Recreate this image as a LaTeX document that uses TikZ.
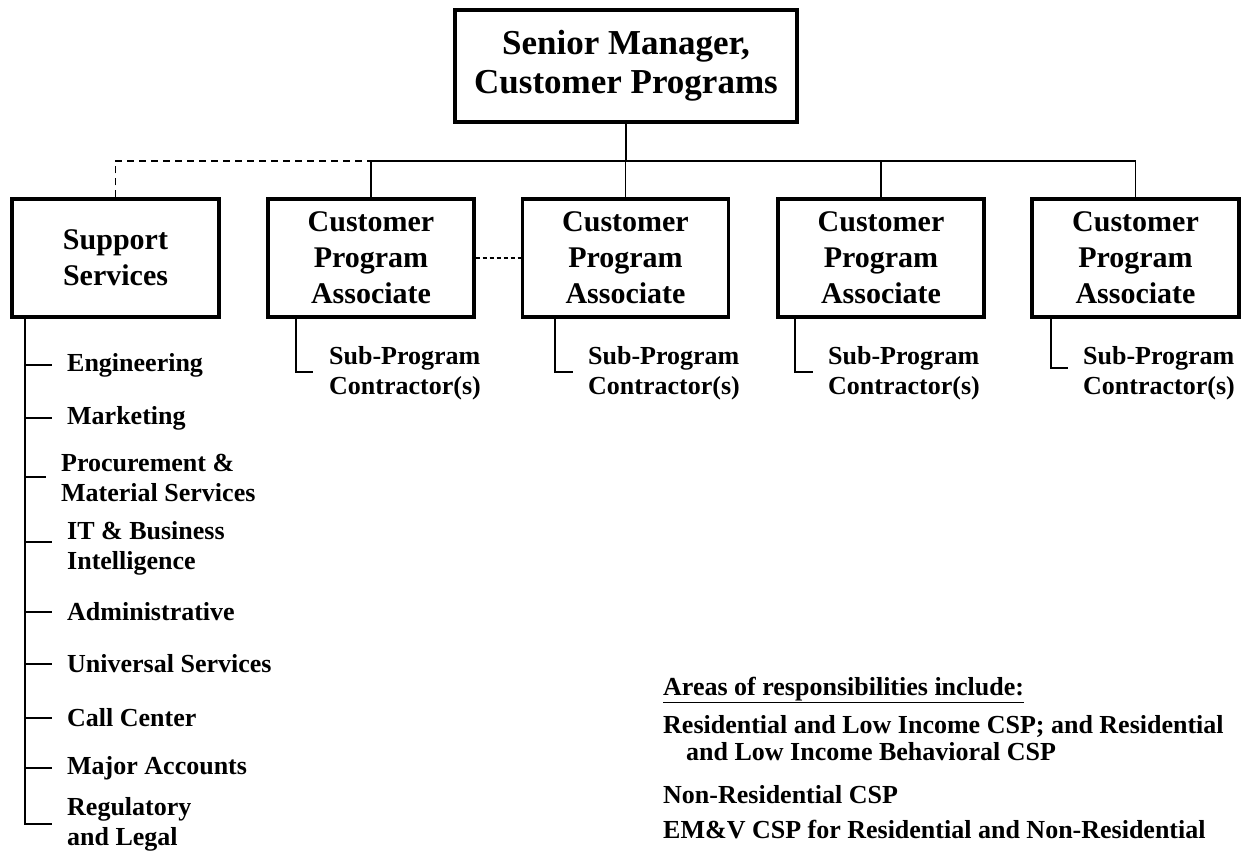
\documentclass[tikz,border=0pt]{standalone}
\usepackage{fontspec}
\setmainfont{Liberation Serif}
\begin{document}
\begin{tikzpicture}[x=1pt,y=-1pt,
  box/.style={draw, line width=3.2pt, align=center, inner sep=0pt, font=\bfseries\fontsize{30}{36}\selectfont},
  cpabox/.style={box, minimum width=206pt, minimum height=118pt},
  conn/.style={line width=1.8pt},
  dashA/.style={conn, dash pattern=on 7pt off 5pt},
  dashB/.style={conn, line width=1.2pt, dash pattern=on 4pt off 3pt},
  small/.style={inner sep=0pt, anchor=west, align=left, font=\bfseries\fontsize{26}{30}\selectfont}
]
\useasboundingbox (0,0) rectangle (1248,852);

% top box
\node[box, minimum width=342pt, minimum height=112pt, font=\bfseries\fontsize{35}{39}\selectfont] (top) at (626,66) {Senior Manager,\\Customer Programs};

% second level
\node[cpabox, minimum width=207pt] (supp) at (115.5,258) {Support\\Services};
\node[cpabox] (cpa1) at (371,258) {Customer\\Program\\Associate};
\node[cpabox] (cpa2) at (625.5,258) {Customer\\Program\\Associate};
\node[cpabox] (cpa3) at (881,258) {Customer\\Program\\Associate};
\node[cpabox, minimum width=207pt] (cpa4) at (1135.5,258) {Customer\\Program\\Associate};

% bus
\coordinate (bus) at (626,161);
\draw[conn] (top.south) -- (bus);
\draw[conn] (cpa1.north) |- (bus) -| (cpa4.north);
\draw[conn] (cpa2.north) -- (cpa2.north |- bus);
\draw[conn] (cpa3.north) -- (cpa3.north |- bus);
\draw[dashA] (supp.north) |- (bus);
\draw[dashB] (cpa1.east) -- (cpa2.west);

% sub-program contractors
\node[small] (sub1) at (329,373) {Sub-Program\\Contractor(s)};
\node[small] (sub2) at (588,373) {Sub-Program\\Contractor(s)};
\node[small] (sub3) at (828,373) {Sub-Program\\Contractor(s)};
\node[small] (sub4) at (1083,373) {Sub-Program\\Contractor(s)};
\coordinate (e1) at (313,372);
\coordinate (e2) at (573,372);
\coordinate (e3) at (813,372);
\coordinate (e4) at (1068,368);
\draw[conn] (cpa1.south -| 296,0) |- (e1);
\draw[conn] (cpa2.south -| 555,0) |- (e2);
\draw[conn] (cpa3.south -| 795,0) |- (e3);
\draw[conn] (cpa4.south -| 1051,0) |- (e4);

% support services list
\node[small] (eng) at (67,365) {Engineering};
\node[small] (mkt) at (67,418) {Marketing};
\node[small] (proc) at (61,478) {Procurement \&\\Material Services};
\node[small] (it) at (67,548) {IT \& Business\\Intelligence};
\node[small] (adm) at (67,612) {Administrative};
\node[small] (uni) at (67,664) {Universal Services};
\node[small] (call) at (67,718) {Call Center};
\node[small] (maj) at (67,768) {Major Accounts};
\node[small] (reg) at (67,824) {Regulatory\\and Legal};

\coordinate (spine) at (25,0);
\draw[conn] (supp.south -| spine) -- (spine |- reg.west) -- ++(27,0);
\draw[conn] (spine |- eng.west) -- ++(27,0);
\draw[conn] (spine |- mkt.west) -- ++(27,0);
\draw[conn] (25,477) -- ++(21,0);
\draw[conn] (25,542) -- ++(27,0);
\draw[conn] (spine |- adm.west) -- ++(27,0);
\draw[conn] (spine |- uni.west) -- ++(27,0);
\draw[conn] (spine |- call.west) -- ++(27,0);
\draw[conn] (spine |- maj.west) -- ++(27,0);

% areas of responsibility
\node[small] (areas) at (663,690) {\underline{Areas of responsibilities include:}};
\node[small] (res1) at (663,726) {Residential and Low Income CSP; and Residential};
\node[small] (res2) at (686,752) {and Low Income Behavioral CSP};
\node[small] (nonres) at (663,795) {Non-Residential CSP};
\node[small] (emv) at (663,830) {EM\&V CSP for Residential and Non-Residential};
\end{tikzpicture}
\end{document}
